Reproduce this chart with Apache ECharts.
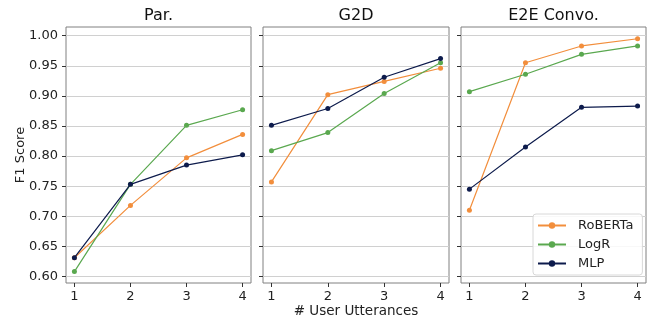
<!DOCTYPE html>
<html><head><meta charset="utf-8">
<script src="https://cdn.jsdelivr.net/npm/echarts@6/dist/echarts.min.js"></script>
<style>html,body{margin:0;padding:0;background:#fff}#c{width:657px;height:318px}</style>
</head><body><div id="c"></div>
<script>
const utterances = [1, 2, 3, 4];
const panels = ['Par.', 'G2D', 'E2E Convo.'];
const models = ['RoBERTa', 'LogR', 'MLP'];
const yTicks = [0.60, 0.65, 0.70, 0.75, 0.80, 0.85, 0.90, 0.95, 1.00];
// values per panel
const parRoBERTa = [0.631, 0.718, 0.797, 0.836];
const parLogR    = [0.608, 0.753, 0.851, 0.877];
const parMLP     = [0.631, 0.753, 0.785, 0.802];
const g2dRoBERTa = [0.757, 0.902, 0.924, 0.946];
const g2dLogR    = [0.809, 0.839, 0.904, 0.955];
const g2dMLP     = [0.851, 0.879, 0.931, 0.962];
const e2eRoBERTa = [0.710, 0.955, 0.983, 0.995];
const e2eLogR    = [0.907, 0.936, 0.969, 0.983];
const e2eMLP     = [0.745, 0.815, 0.881, 0.883];

const panelData = [
  [parRoBERTa, parLogR, parMLP],
  [g2dRoBERTa, g2dLogR, g2dMLP],
  [e2eRoBERTa, e2eLogR, e2eMLP]
];
const colors = ['#f28e3c', '#5aa84f', '#0d1b4c'];
const font = 'DejaVu Sans';
const lefts = [66, 263, 461];
const widths = [185, 186, 185];

const grids = [], xAxes = [], yAxes = [], series = [], graphics = [];
for (let p = 0; p < 3; p++) {
  grids.push({left: lefts[p], top: 27, width: widths[p], height: 256, show: true,
    borderColor: '#808080', borderWidth: 1, backgroundColor: 'transparent'});
  xAxes.push({type: 'value', gridIndex: p, min: 0.85, max: 4.15,
    axisLine: {show: false},
    axisTick: {show: true, inside: false, length: 4, lineStyle: {color: '#333'}, customValues: utterances},
    axisLabel: {show: true, margin: 7, fontFamily: font, fontSize: 13, color: '#222', customValues: utterances},
    splitLine: {show: false}});
  yAxes.push({type: 'value', gridIndex: p, min: 0.589, max: 1.0145,
    axisLine: {show: false},
    axisTick: {show: true, inside: false, length: 4, lineStyle: {color: '#333'}, customValues: yTicks},
    axisLabel: {show: p === 0, margin: 8, fontFamily: font, fontSize: 13, color: '#222', customValues: yTicks,
      formatter: v => v.toFixed(2)},
    splitLine: {show: true, lineStyle: {color: '#d0d0d0', width: 1}}});
  graphics.push({type: 'text', x: lefts[p] + widths[p] / 2, y: 16,
    style: {text: panels[p], fontFamily: font, fontSize: 16, fill: '#111', align: 'center', verticalAlign: 'middle'}});
  for (let m = 0; m < 3; m++) {
    series.push({name: models[m], type: 'line', xAxisIndex: p, yAxisIndex: p,
      data: utterances.map((u, i) => [u, panelData[p][m][i]]),
      symbol: 'circle', symbolSize: 5, color: colors[m],
      lineStyle: {width: 1.2, color: colors[m]}, itemStyle: {color: colors[m]},
      animation: false, z: 3 + (m === 2 ? 1 : 0)});
  }
}
graphics.push({type: 'text', x: 356, y: 311, style: {text: '# User Utterances', fontFamily: font, fontSize: 13.5, fill: '#222', align: 'center', verticalAlign: 'middle'}});
graphics.push({type: 'text', x: 21, y: 155, rotation: Math.PI / 2, style: {text: 'F1 Score', fontFamily: font, fontSize: 13, fill: '#222', align: 'center', verticalAlign: 'middle'}});

const chart = echarts.init(document.getElementById('c'), null, {renderer: 'canvas'});
chart.setOption({
  backgroundColor: '#fff',
  animation: false,
  grid: grids, xAxis: xAxes, yAxis: yAxes, series: series,
  legend: {data: models, orient: 'vertical', left: 533, top: 214,
    itemWidth: 28, itemHeight: 8, itemGap: 6,
    padding: [5, 9, 5, 4],
    backgroundColor: 'rgba(255,255,255,0.85)', borderColor: '#d8d8d8', borderWidth: 1, borderRadius: 3,
    textStyle: {fontFamily: font, fontSize: 13, color: '#222', padding: [0, 0, 0, 7]}},
  graphic: graphics
});
</script></body></html>
